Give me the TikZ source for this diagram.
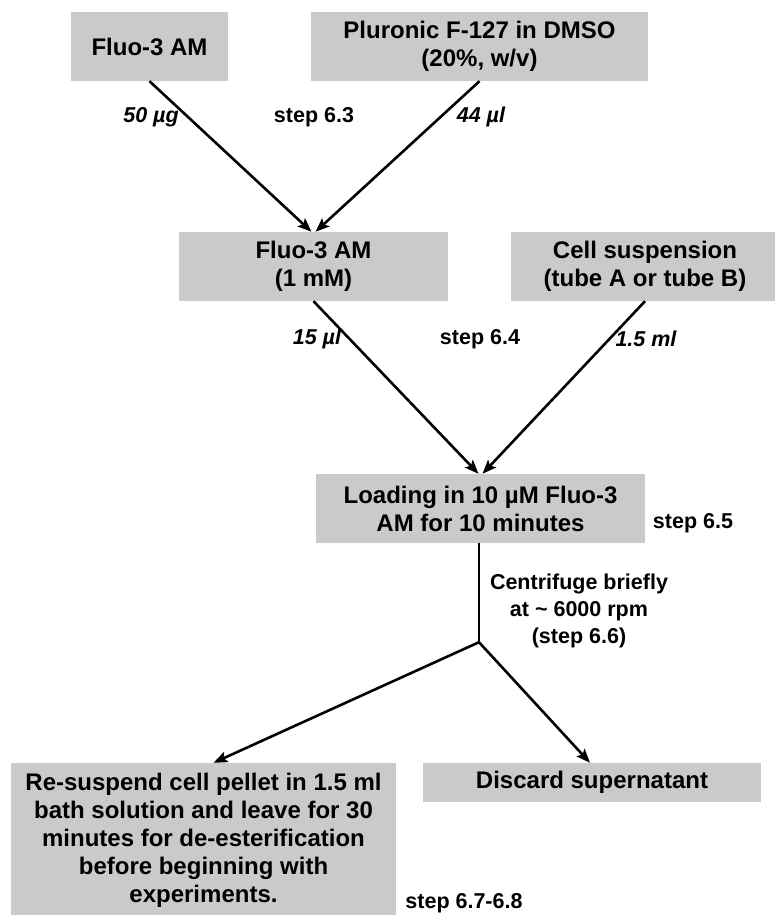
\documentclass[tikz,border=0pt]{standalone}
\usepackage{fontspec}
\setmainfont{Liberation Sans}
\usetikzlibrary{arrows.meta}
\definecolor{boxgray}{RGB}{202,202,202}
\tikzstyle{graybox}=[fill=boxgray, align=center, inner sep=0pt, font=\fontsize{24}{28}\selectfont\bfseries]
\tikzstyle{steplabel}=[align=center, inner sep=0pt, font=\fontsize{21.5}{27}\selectfont\bfseries]
\tikzstyle{amount}=[align=center, inner sep=0pt, font=\fontsize{21.5}{27}\selectfont\bfseries\itshape]
\tikzstyle{flowarrow}=[line width=2.6pt, -{Stealth[length=14pt,width=11pt,inset=3pt]}]

\begin{document}
\begin{tikzpicture}[x=1pt,y=-1pt]
	\useasboundingbox (0,0) rectangle (775,915);
	% first mix: dye and detergent
	\node[graybox, minimum width=157pt, minimum height=69pt] (fluo) at (149.5,46.5) {Fluo-3 AM};
	\node[graybox, minimum width=337pt, minimum height=69pt] (pluronic) at (479.5,46.5) {Pluronic F-127 in DMSO\\(20\%, w/v)};
	\node[graybox, minimum width=269pt, minimum height=69pt] (stock) at (313.5,266.5) {Fluo-3 AM\\(1 mM)};
	\draw[flowarrow] (fluo.south) -- ([xshift=-2pt]stock.north);
	\draw[flowarrow] (pluronic.south) -- ([xshift=2pt]stock.north);
	\node[amount] (dyeamount) at (151,117) {50 µg};
	\node[steplabel] (stepA) at (314,117) {step 6.3};
	\node[amount] (plamount) at (481,117) {44 µl};
	% second mix: loading the cells
	\node[graybox, minimum width=268pt, minimum height=69pt] (cells) at (645,266.5) {Cell suspension\\(tube A or tube B)};
	\node[graybox, minimum width=329pt, minimum height=69pt] (loading) at (480.5,508.5) {Loading in 10 µM Fluo-3\\AM for 10 minutes};
	\draw[flowarrow] (stock.south) -- ([xshift=-2pt]loading.north);
	\draw[flowarrow] (cells.south) -- ([xshift=2pt]loading.north);
	\node[amount] (stockamount) at (317,339) {15 µl};
	\node[steplabel] (stepB) at (480,339) {step 6.4};
	\node[amount] (cellamount) at (646,339) {1.5 ml};
	\node[steplabel] (stepC) at (693,523) {step 6.5};
	% centrifuge and split
	\coordinate (split) at ([xshift=-1.5pt,yshift=-99pt]loading.south);
	\draw[line width=2.6pt] (loading.south -| split) -- (split);
	\node[steplabel] (spin) at (579,611) {Centrifuge briefly\\at \textasciitilde{} 6000 rpm\\(step 6.6)};
	\node[graybox, minimum width=385pt, minimum height=155pt] (resus) at (203.5,840.5) {Re-suspend cell pellet in 1.5 ml\\bath solution and leave for 30\\minutes for de-esterification\\before beginning with\\experiments.};
	\node[graybox, minimum width=338pt, minimum height=39pt] (discard) at (592,782.5) {Discard supernatant};
	\draw[flowarrow] (split) -- ([xshift=10pt]resus.north);
	\draw[flowarrow] (split) -- ([xshift=-2pt]discard.north);
	\node[steplabel] (stepD) at (464,903) {step 6.7-6.8};
\end{tikzpicture}
\end{document}
